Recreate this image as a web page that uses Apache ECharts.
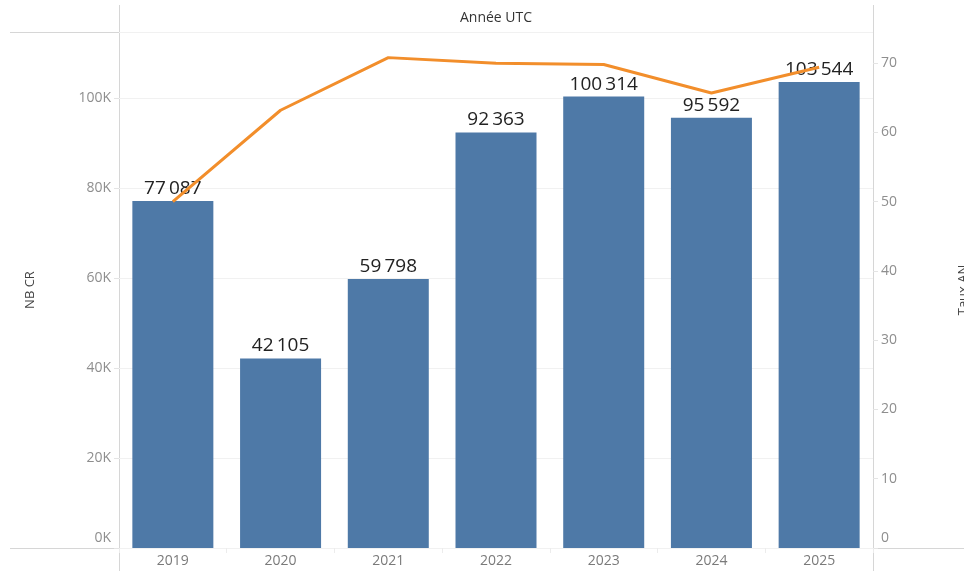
<!DOCTYPE html>
<html lang="fr">
<head>
    <meta charset="UTF-8">
    <title>nb_cr_taux_an</title>
    <style type="text/css">
        html, body { margin: 0; padding: 0; background: #fff; }
        #box { width: 964px; height: 571px; }
    </style>
</head>
<body>
<div id="box"></div>
<script type="text/javascript" src="https://cdn.jsdelivr.net/npm/echarts@6/dist/echarts.min.js"></script>
<script type="text/javascript">
    // données
    let years = ['2019', '2020', '2021', '2022', '2023', '2024', '2025'];
    let nbCr = [77087, 42105, 59798, 92363, 100314, 95592, 103544];
    let tauxAn = [50.0, 63.2, 70.8, 70.0, 69.8, 65.7, 69.4];

    let font = '"Open Sans", "Noto Sans", sans-serif';
    let frame = '#d6d6d6';

    function sep(v) {
        return String(v).replace(/\B(?=(\d{3})+(?!\d))/g, '\u2009');
    }

    function zeroUp(txt, v) {
        // Tableau remonte le libellé 0 dans la zone
        return v === 0 ? '{z|' + txt + '}' : txt;
    }

    let myChart = echarts.init(document.getElementById('box'));
    let option = {
        animation: false,
        textStyle: {fontFamily: font},
        grid: {left: 119, right: 91, top: 32, bottom: 23, containLabel: false, outerBoundsMode: 'none'},
        graphic: [
            {type: 'line', shape: {x1: 119.5, y1: 5, x2: 119.5, y2: 571}, style: {stroke: frame, lineWidth: 1}, silent: true},
            {type: 'line', shape: {x1: 873.5, y1: 5, x2: 873.5, y2: 571}, style: {stroke: frame, lineWidth: 1}, silent: true},
            {type: 'line', shape: {x1: 10, y1: 32.5, x2: 873, y2: 32.5}, style: {stroke: frame, lineWidth: 1}, silent: true},
            {type: 'line', shape: {x1: 10, y1: 548.5, x2: 964, y2: 548.5}, style: {stroke: frame, lineWidth: 1}, silent: true},
            {
                type: 'text', x: 496, y: 18,
                style: {
                    text: 'Année UTC', fill: '#333', font: '14px ' + font,
                    textAlign: 'center', textVerticalAlign: 'middle'
                },
                silent: true
            }
        ],
        xAxis: {
            type: 'category',
            data: years,
            axisLine: {show: false},
            axisTick: {show: true, alignWithLabel: false, length: 5, lineStyle: {color: '#ececec'}},
            axisLabel: {color: '#7a7a7a', fontSize: 14, margin: 6}
        },
        yAxis: [
            {
                type: 'value',
                name: 'NB CR',
                nameLocation: 'middle',
                nameRotate: 90,
                nameGap: 82,
                nameTextStyle: {color: '#444', fontSize: 13},
                min: 0,
                max: 114670,
                interval: 20000,
                axisLine: {show: false},
                axisTick: {show: true, length: 5, lineStyle: {color: '#e4e4e4'}},
                axisLabel: {
                    color: '#8e8e8e', fontSize: 14, margin: 8, showMaxLabel: false,
                    formatter: function (v) { return zeroUp((v / 1000) + 'K', v); },
                    rich: {z: {color: '#8e8e8e', fontSize: 14, padding: [0, 0, 19, 0]}}
                },
                splitLine: {lineStyle: {color: '#f1f1f1'}}
            },
            {
                type: 'value',
                name: 'Taux AN',
                nameLocation: 'middle',
                nameRotate: 90,
                nameGap: 84,
                nameTextStyle: {color: '#444', fontSize: 13},
                min: 0,
                max: 74.5,
                interval: 10,
                position: 'right',
                axisLine: {show: false},
                axisTick: {show: true, length: 5, lineStyle: {color: '#e4e4e4'}},
                axisLabel: {
                    color: '#8e8e8e', fontSize: 14, margin: 8, showMaxLabel: false,
                    formatter: function (v) { return zeroUp(String(v), v); },
                    rich: {z: {color: '#8e8e8e', fontSize: 14, padding: [0, 0, 19, 0]}}
                },
                splitLine: {show: false}
            }
        ],
        series: [
            {
                name: 'NB CR',
                type: 'bar',
                yAxisIndex: 0,
                barWidth: 81,
                data: nbCr,
                itemStyle: {color: '#4e79a7'},
                label: {
                    show: true,
                    position: 'top',
                    distance: 3,
                    color: '#222',
                    fontSize: 19,
                    formatter: function (p) { return sep(p.value); }
                }
            },
            {
                name: 'Taux AN',
                type: 'line',
                yAxisIndex: 1,
                data: tauxAn,
                showSymbol: false,
                symbol: 'none',
                lineStyle: {color: '#f28e2b', width: 3},
                z: 5
            }
        ]
    };
    myChart.setOption(option);
</script>
</body>
</html>
